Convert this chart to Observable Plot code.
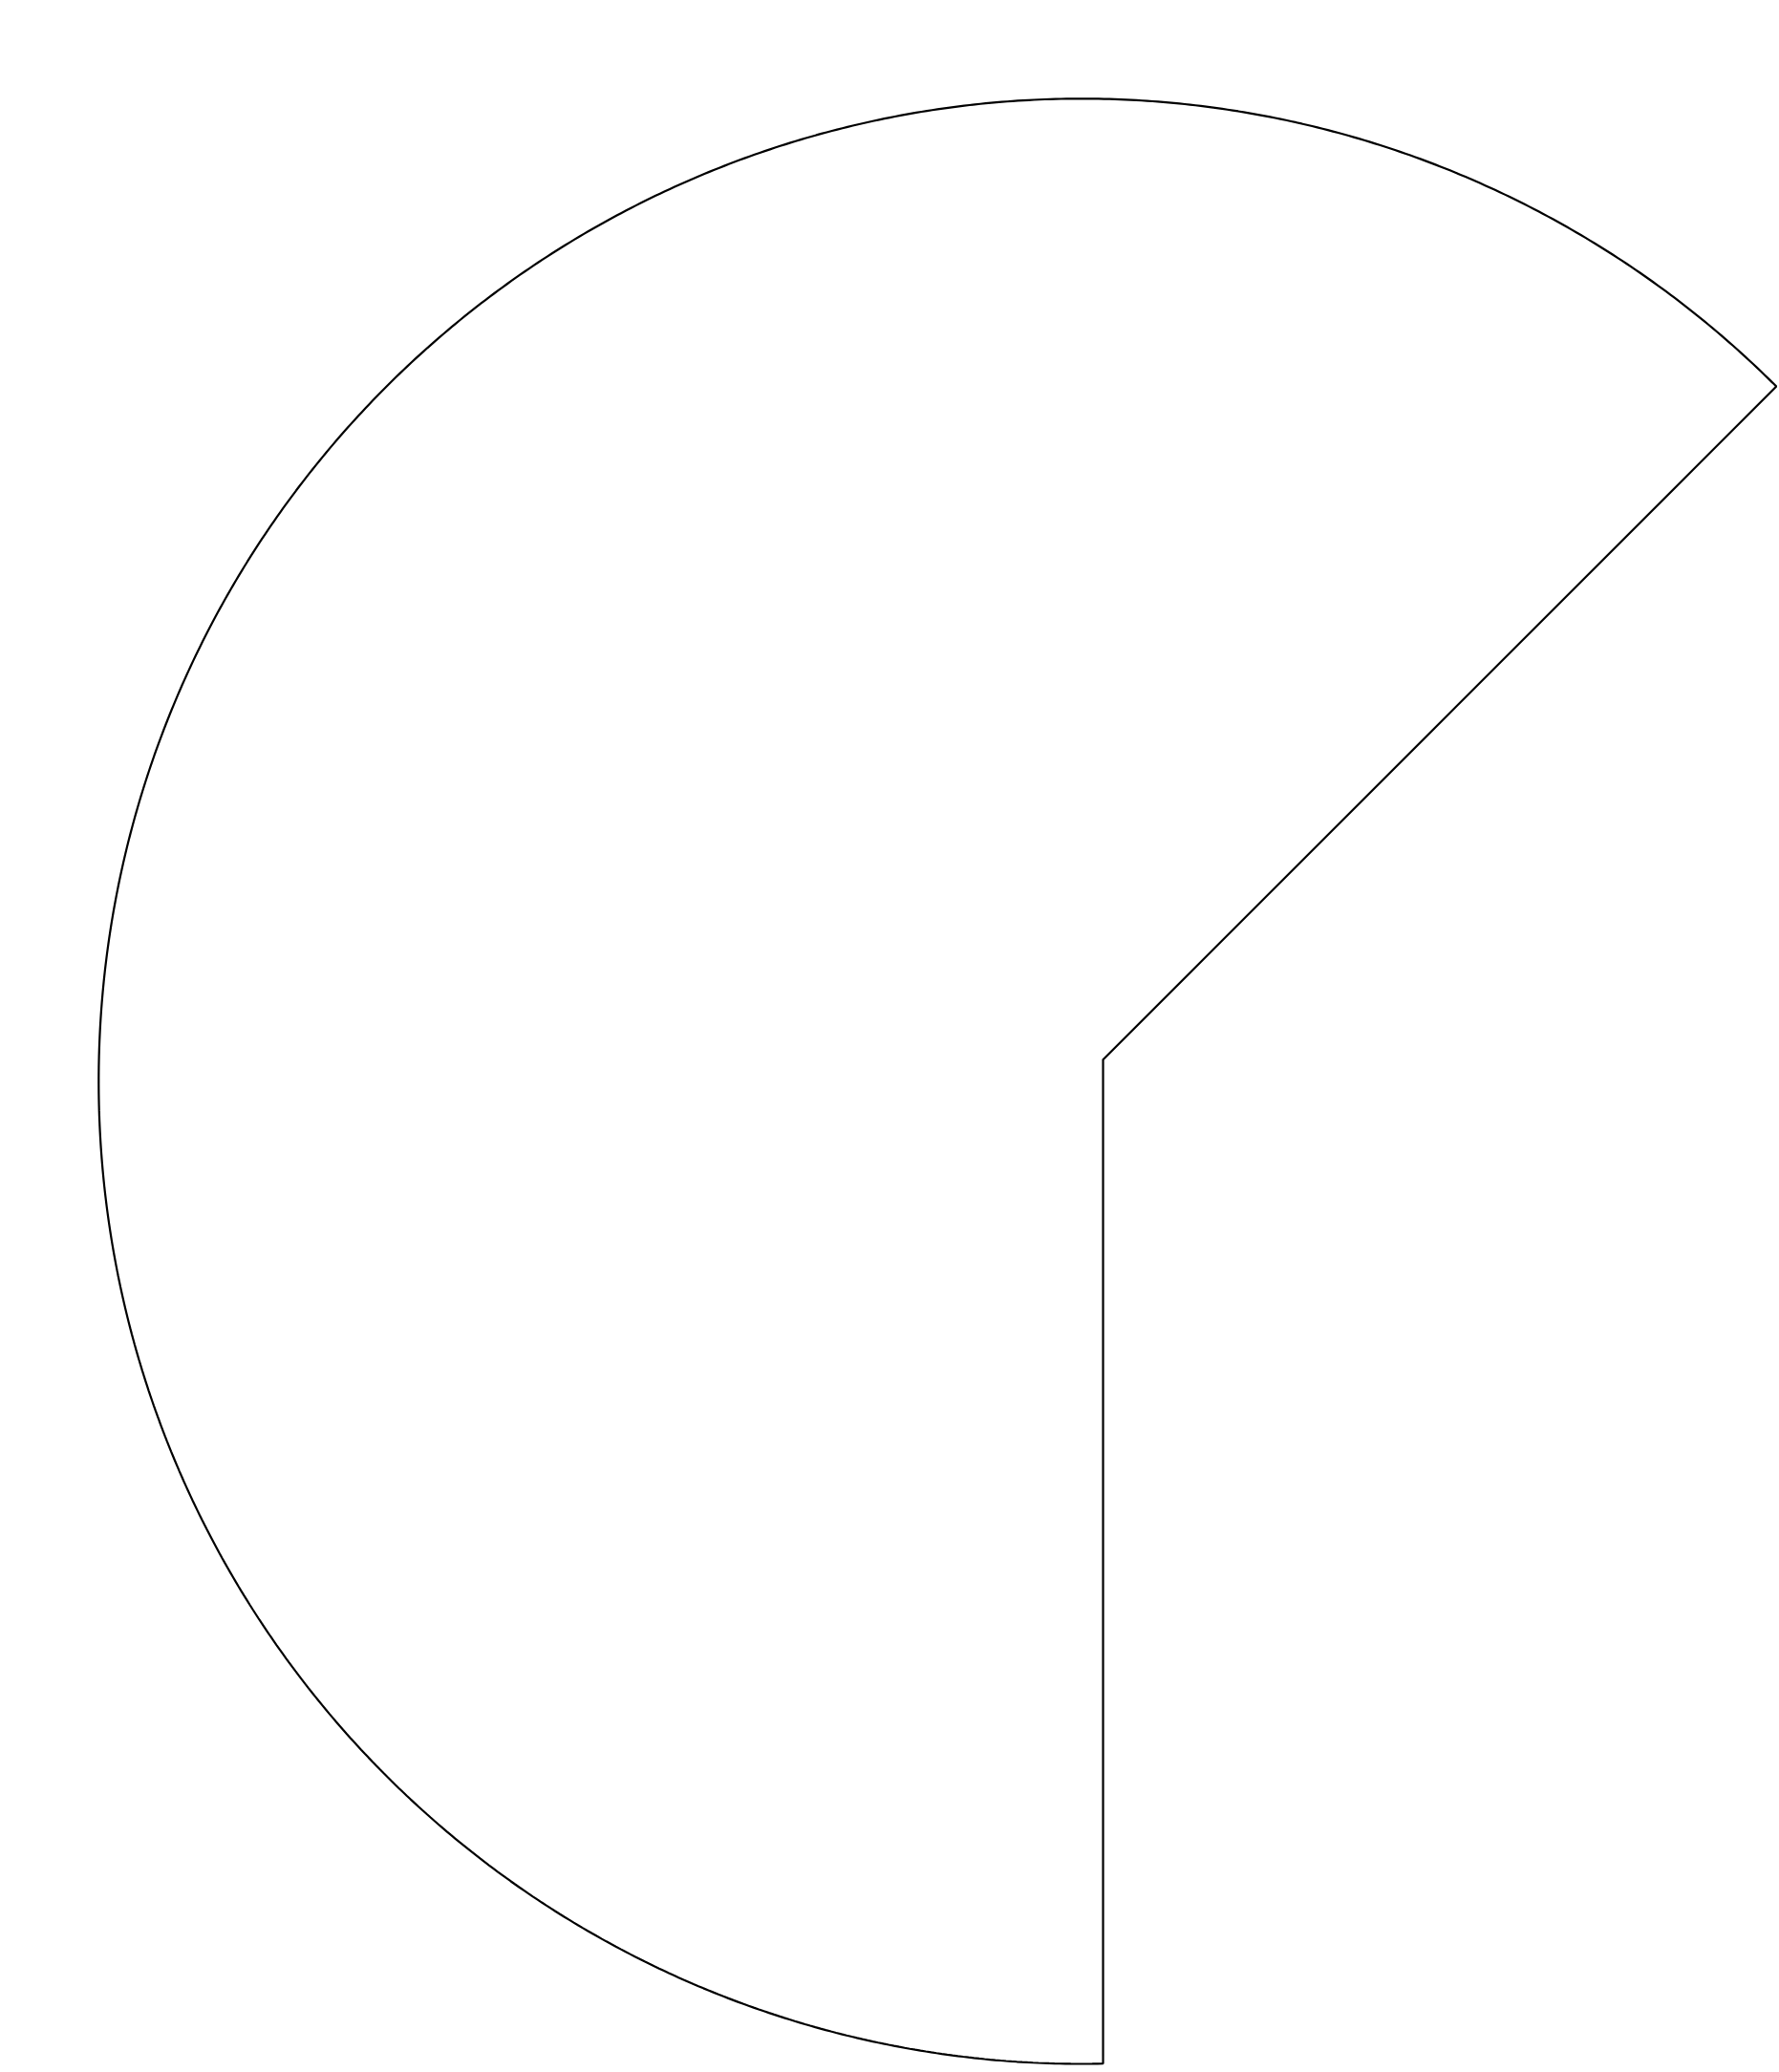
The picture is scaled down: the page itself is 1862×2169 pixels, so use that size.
<!DOCTYPE html>
<html><head><meta charset="utf-8">
<script src="https://cdn.jsdelivr.net/npm/d3@7"></script>
<script src="https://cdn.jsdelivr.net/npm/@observablehq/plot@0.6"></script>
<style>html,body{margin:0;padding:0;background:#fff;overflow:hidden}</style>
</head><body><div id="chart"></div>
<script>
// Pie data: two slices, only the first one is outlined
const categories = ["A", "B"];
const values = [62.5, 37.5];

const W = 1862, H = 2169;
const R_PX = 1028.6, CX = 1131.4, CY = 1131.4; // layout
const pad = 0.022; // edge offset of the start edge (radius units)

const arcs = d3.pie().sort(null).startAngle(Math.PI).endAngle(3 * Math.PI)(values);
const a = arcs[0];

// Build outline of slice A in radius units (y up, angle clockwise from 12 o'clock)
const pts = [];
const a0 = a.startAngle - Math.asin(pad);
const a1 = a.endAngle;
const apex = {x: pad, y: pad * Math.cos(a1) / Math.sin(a1)};
pts.push(apex);
const n = 720;
for (let i = 0; i <= n; ++i) {
  const t = a1 - (a1 - a0) * i / n;
  pts.push({x: Math.sin(t), y: Math.cos(t)});
}
pts.push(apex);

const chart = Plot.plot({
  width: W, height: H, margin: 0,
  x: {domain: [-CX / R_PX, (W - CX) / R_PX], axis: null},
  y: {domain: [-(H - CY) / R_PX, CY / R_PX], axis: null},
  marks: [
    Plot.line(pts, {x: "x", y: "y", stroke: "black", strokeWidth: 2.2, strokeLinejoin: "miter", fill: "none"})
  ]
});
document.getElementById("chart").appendChild(chart);
</script>
</body></html>
